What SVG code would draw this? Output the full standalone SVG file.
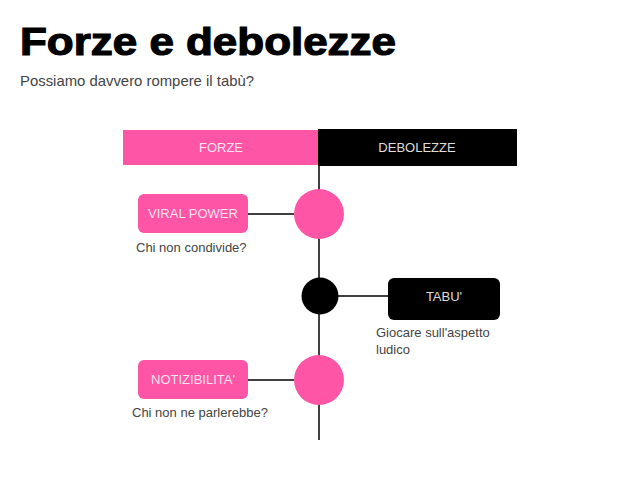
<svg xmlns="http://www.w3.org/2000/svg" width="638" height="479" viewBox="0 0 638 479">
<style>
.t{font-family:"Liberation Sans",Arial,sans-serif}
.title{font-weight:bold;font-size:38px;fill:#000;stroke:#000;stroke-width:1.2}
.sub{font-size:15px;fill:#444}
.lbl{font-size:13px;fill:#fff;text-anchor:middle}
.cap{font-size:13px;fill:#444}
.pink{fill:#ff55a6}
.blk{fill:#000}
.ln{stroke:#000;stroke-width:1.5;fill:none}
</style>
<rect width="638" height="479" fill="#fff"/>
<text class="t title" x="20" y="55" textLength="376" lengthAdjust="spacingAndGlyphs">Forze e debolezze</text>
<text class="t sub" x="20" y="86" textLength="234" lengthAdjust="spacingAndGlyphs">Possiamo davvero rompere il tabù?</text>
<g id="header">
<rect class="pink" x="123" y="130" width="196" height="35"/>
<rect class="blk" x="318" y="129" width="199" height="37"/>
<text class="t lbl" x="221" y="152" fill-opacity="0.85">FORZE</text>
<text class="t lbl" x="417" y="152" style="fill:#ddd">DEBOLEZZE</text>
</g>
<g id="connectors">
<line class="ln" x1="319" y1="166" x2="319" y2="440"/>
<line class="ln" x1="248" y1="214" x2="294" y2="214"/>
<line class="ln" x1="338" y1="296" x2="388" y2="296"/>
<line class="ln" x1="248" y1="380" x2="294" y2="380"/>
</g>
<g id="circle1"><circle class="pink" cx="319" cy="214" r="25"/></g>
<g id="circle2"><circle class="blk" cx="320" cy="296" r="18.5"/></g>
<g id="circle3"><circle class="pink" cx="319" cy="380" r="25"/></g>
<g id="viral">
<rect class="pink" x="138" y="194" width="110" height="39" rx="6"/>
<text class="t lbl" x="193" y="218" fill-opacity="0.85">VIRAL POWER</text>
<text class="t cap" x="136" y="252">Chi non condivide?</text>
</g>
<g id="tabu">
<rect class="blk" x="388" y="278" width="112" height="42" rx="6"/>
<text class="t lbl" x="444" y="301" style="fill:#ddd">TABU'</text>
<text class="t cap" x="376" y="337">Giocare sull'aspetto</text>
<text class="t cap" x="376" y="354">ludico</text>
</g>
<g id="notiz">
<rect class="pink" x="138" y="360" width="110" height="39" rx="6"/>
<text class="t lbl" x="193" y="384" fill-opacity="0.85">NOTIZIBILITA'</text>
<text class="t cap" x="132" y="417">Chi non ne parlerebbe?</text>
</g>
</svg>
